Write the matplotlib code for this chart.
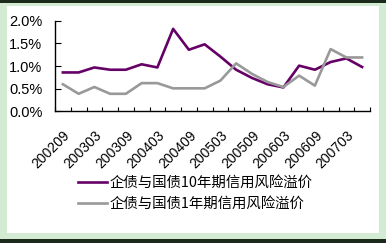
import matplotlib
matplotlib.use('Agg')
import matplotlib.pyplot as plt
from matplotlib.patches import Rectangle
from matplotlib.ticker import FuncFormatter, MultipleLocator

plt.rcParams['font.family'] = ['Noto Sans CJK SC', 'DejaVu Sans']

quarters = ['200209', '200212', '200303', '200306', '200309', '200312',
            '200403', '200406', '200409', '200412', '200503', '200506',
            '200509', '200512', '200603', '200606', '200609', '200612',
            '200703', '200706']
spread_10y = [0.86, 0.86, 0.97, 0.92, 0.92, 1.04, 0.97, 1.82, 1.36, 1.48,
              1.21, 0.92, 0.74, 0.60, 0.53, 1.01, 0.92, 1.09, 1.17, 0.98]
spread_1y = [0.60, 0.39, 0.54, 0.39, 0.39, 0.625, 0.625, 0.51, 0.51, 0.51,
             0.68, 1.06, 0.83, 0.65, 0.54, 0.79, 0.57, 1.375, 1.19, 1.19]
name_10y = '企债与国债10年期信用风险溢价'
name_1y = '企债与国债1年期信用风险溢价'

fig = plt.figure(figsize=(3.86, 2.43), dpi=100)
fig.patch.set_facecolor('#d2ebd2')
W, H = 386, 243
# dark bands at top and bottom, white panel inside
fig.patches.append(Rectangle((0, 1 - 3 / H), 1, 3 / H, transform=fig.transFigure,
                             facecolor='#1c2a1c', edgecolor='none', zorder=-3))
fig.patches.append(Rectangle((0, 0), 1, 4 / H, transform=fig.transFigure,
                             facecolor='#1c2a1c', edgecolor='none', zorder=-3))
fig.patches.append(Rectangle((7 / W, 10 / H), 372 / W, 227 / H, transform=fig.transFigure,
                             facecolor='white', edgecolor='none', zorder=-2))

ax = fig.add_axes([55 / W, (H - 111.5) / H, 315 / W, 90.8 / H])
ax.set_facecolor('none')

x = list(range(len(quarters)))
ax.plot(x, spread_10y, color='#660066', linewidth=1.9, label=name_10y)
ax.plot(x, spread_1y, color='#999999', linewidth=1.9, label=name_1y)

ax.set_xlim(-0.5, len(quarters) - 0.5)
ax.set_ylim(0, 2.0)
ax.yaxis.set_major_locator(MultipleLocator(0.5))
ax.yaxis.set_major_formatter(FuncFormatter(lambda v, p: f'{v:.1f}%'))

ax.set_xticks(x[::2])
ax.set_xticklabels(quarters[::2], rotation=45, ha='right', va='top',
                   rotation_mode='anchor', fontsize=10, family='Liberation Sans')
ax.set_xticks([i - 0.5 for i in range(len(quarters) + 1)], minor=True)
ax.tick_params(axis='x', which='major', length=0, pad=12)
ax.tick_params(axis='x', which='minor', direction='in', length=3, width=0.8)
ax.tick_params(axis='y', direction='in', length=4, width=0.8, labelsize=10.5, pad=9)
for lab in ax.get_yticklabels():
    lab.set_family('Liberation Sans')

for s in ['top', 'right']:
    ax.spines[s].set_visible(False)
for s in ['left', 'bottom']:
    ax.spines[s].set_linewidth(1.0)

ax.legend(loc='upper left', bbox_to_anchor=(78 / W, (H - 176) / H),
          bbox_transform=fig.transFigure, frameon=False, fontsize=10.4,
          handlelength=2.0, handletextpad=0.2, labelspacing=0.5,
          borderaxespad=0, borderpad=0)

fig.savefig('out.png', dpi=100, facecolor=fig.get_facecolor())
